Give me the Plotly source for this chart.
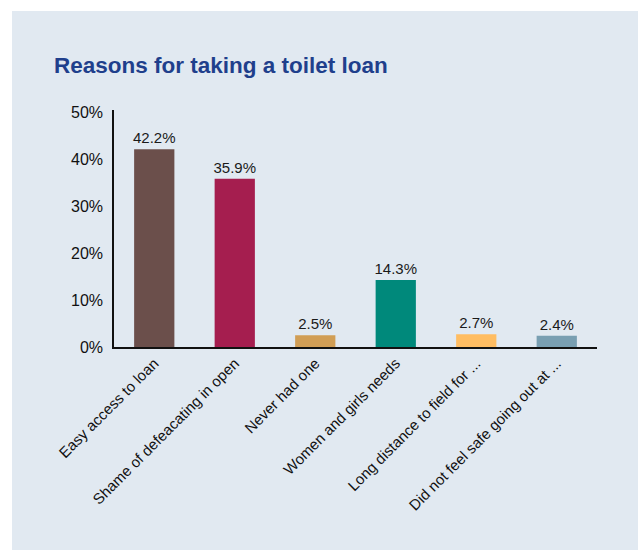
import plotly.graph_objects as go

categories = ["Easy access to loan", "Shame of defeacating in open", "Never had one",
              "Women and girls needs", "Long distance to field for ...",
              "Did not feel safe going out at ..."]
values = [42.2, 35.9, 2.5, 14.3, 2.7, 2.4]
colors = ["#6b4f4b", "#a51e4f", "#d19e55", "#00897b", "#ffbd62", "#799fb2"]
tick_vals = [0, 10, 20, 30, 40, 50]
tick_text = ["0%", "10%", "20%", "30%", "40%", "50%"]

W, H = 638, 550
L, R, T, B = 114, 41, 110, 203
pw, ph = W - L - R, H - T - B
FONT = "Liberation Sans Narrow, Arial Narrow, Liberation Sans, sans-serif"
panel = "#e1e9f1"

fig = go.Figure(go.Bar(
    x=categories, y=values, marker=dict(color=colors, line=dict(width=0)),
    text=[f"{v:.1f}%" for v in values], textposition="outside", textangle=0,
    constraintext="none",
    textfont=dict(family=FONT, size=15, color="#1a1a1a"), cliponaxis=False,
))

def px2x(px):
    return (px - L) / pw

def py2y(py):
    return (H - B - py) / ph

shapes = [
    dict(type="rect", xref="paper", yref="paper", x0=px2x(-5), x1=px2x(W + 5),
         y0=py2y(11), y1=py2y(-5), fillcolor="white", line=dict(width=0), layer="below"),
    dict(type="rect", xref="paper", yref="paper", x0=px2x(-5), x1=px2x(12),
         y0=py2y(H + 5), y1=py2y(-5), fillcolor="white", line=dict(width=0), layer="below"),
]

fig.update_layout(
    width=W, height=H, margin=dict(l=L, r=R, t=T, b=B, autoexpand=False),
    paper_bgcolor=panel, plot_bgcolor=panel, bargap=0.5, showlegend=False,
    shapes=shapes,
    title=dict(text="<b>Reasons for taking a toilet loan</b>", xref="container", yref="container",
               x=54 / W, xanchor="left", y=1 - 65 / H, yanchor="middle",
               font=dict(family=FONT, size=22.5, color="#1f3f8c")),
    font=dict(family=FONT, color="#111111"),
)
fig.update_yaxes(range=[0, 50.6], tickvals=tick_vals, ticktext=tick_text, showgrid=False,
                 zeroline=False, showline=True, linecolor="#111111", linewidth=1.5,
                 ticks="", tickfont=dict(family=FONT, size=16, color="#111111"), ticklabelstandoff=6)
fig.update_xaxes(showgrid=False, showline=True, linecolor="#111111", linewidth=1.5,
                 ticks="", tickangle=-45, tickfont=dict(family=FONT, size=15, color="#111111"))

fig.write_html("out.html")
